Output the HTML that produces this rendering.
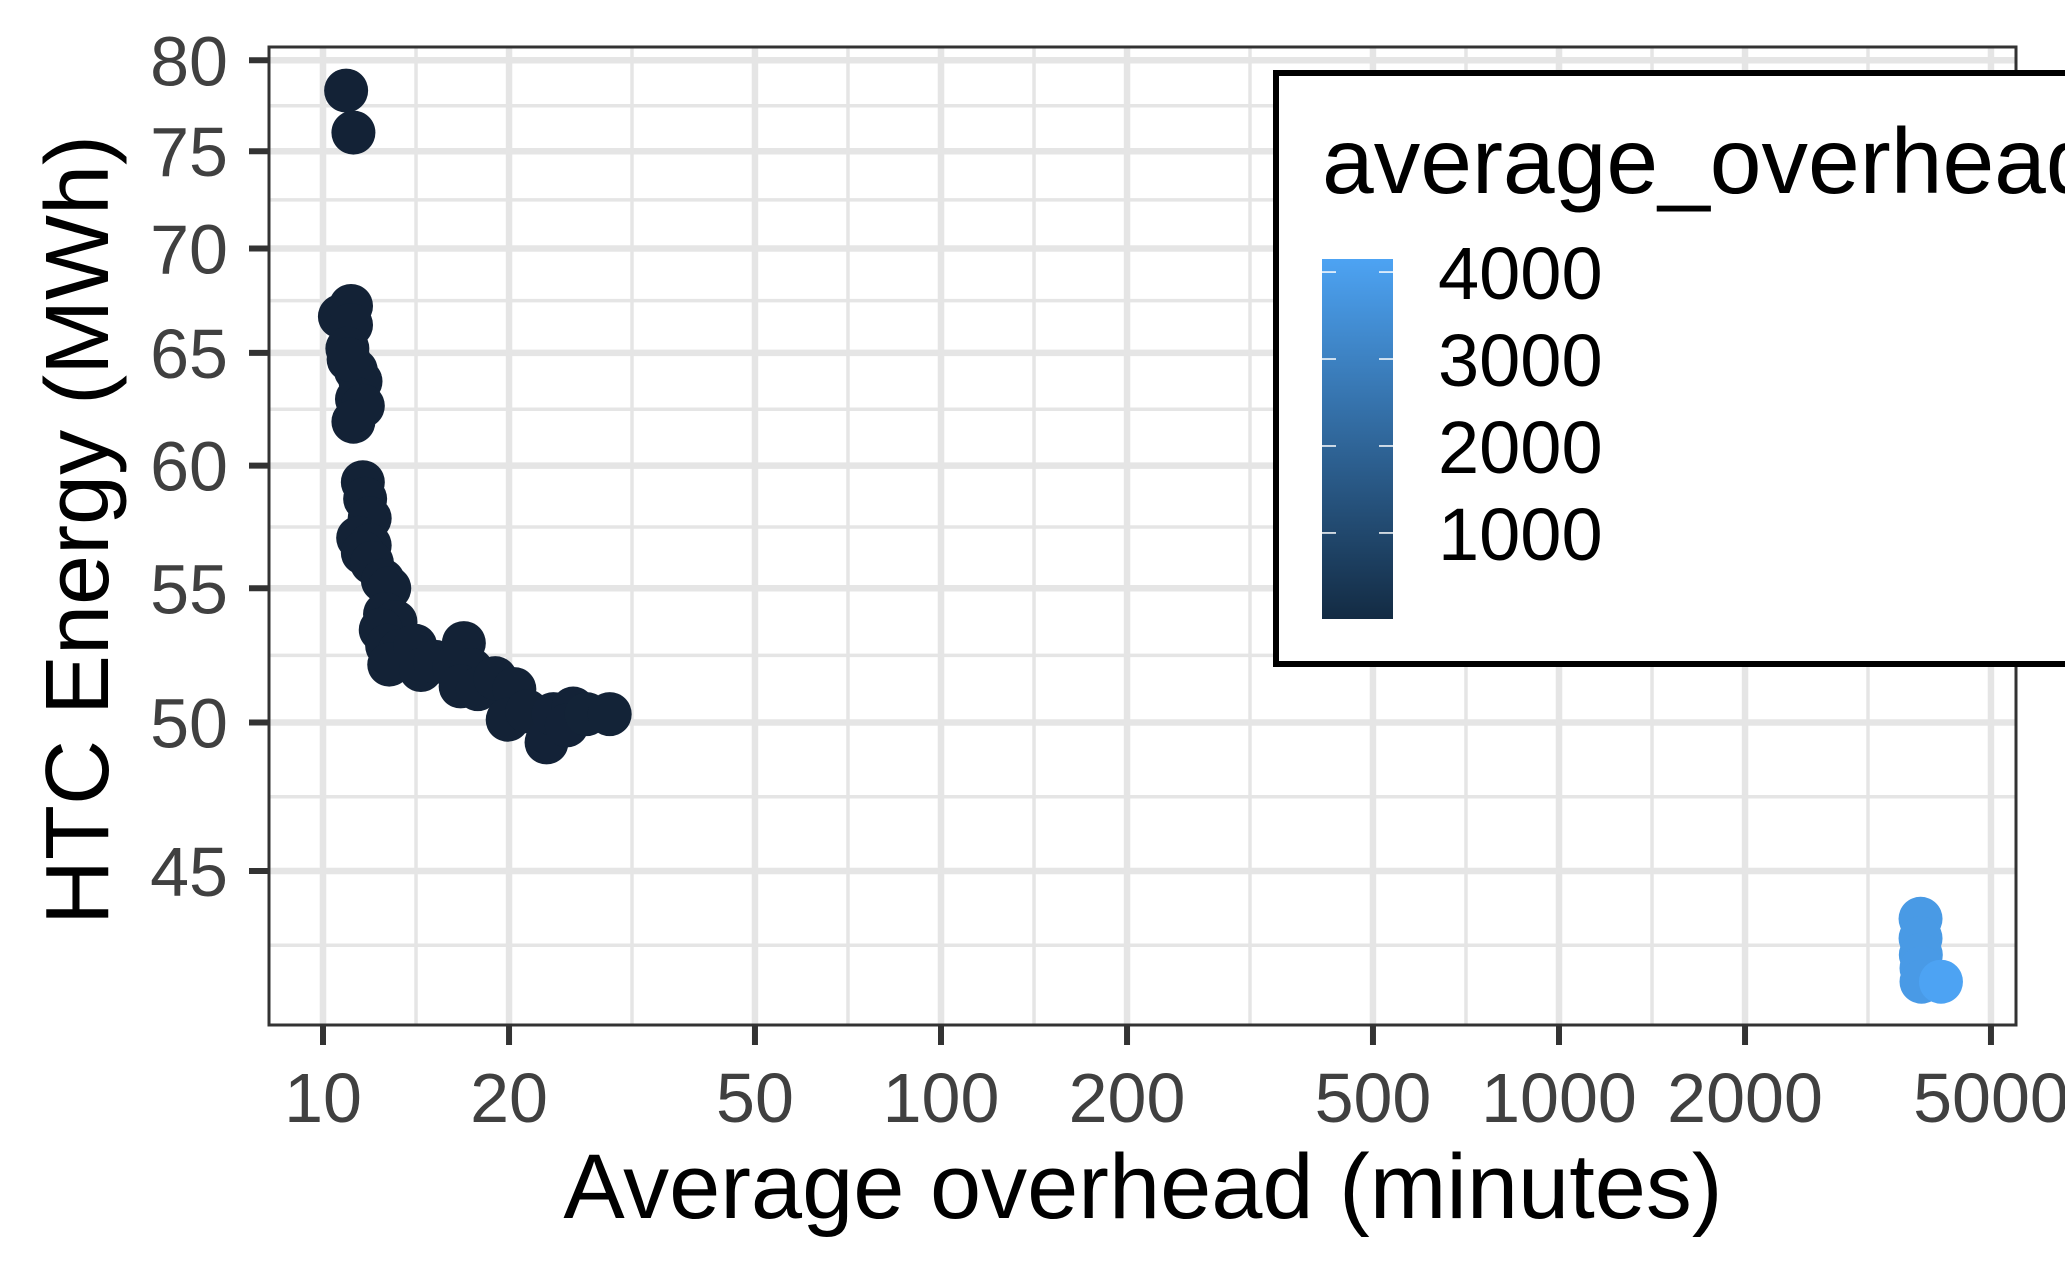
<!DOCTYPE html>
<html><head><meta charset="utf-8"><style>
html,body{margin:0;padding:0;background:#fff;overflow:hidden}
svg{display:block;font-family:"Liberation Sans",Arial,sans-serif}
</style></head><body>
<svg id="chart" width="2065" height="1276" viewBox="0 0 2065 1276" xmlns="http://www.w3.org/2000/svg">
<rect x="0" y="0" width="2065" height="1276" fill="#fff"/>
<g id="grid"></g>
<g id="points"></g>
<rect x="269" y="47" width="1747" height="978" fill="none" stroke="#333" stroke-width="3"/>
<g id="axes"></g>
<text x="1143" y="1218" font-size="92" text-anchor="middle" fill="#000">Average overhead (minutes)</text>
<text transform="translate(108,530) rotate(-90)" font-size="90" text-anchor="middle" fill="#000">HTC Energy (MWh)</text>
<g>
<rect x="1276" y="73" width="800" height="591" fill="#fff" stroke="#000" stroke-width="6"/>
<text x="1322" y="193" font-size="93" fill="#000">average_overhead</text>
<defs><linearGradient id="cg" x1="0" y1="1" x2="0" y2="0"><stop offset="0" stop-color="#132B43"/><stop offset="1" stop-color="#4DA3F3"/></linearGradient></defs>
<rect x="1322" y="259" width="71" height="360" fill="url(#cg)"/>
<g id="legend-ticks"></g>
</g>
</svg>
<script>
const xValues = [10.9,11.2,10.65,11.1,11.1,10.95,11.3,11.5,11.35,11.6,11.2,11.0,11.6,11.7,11.9,11.4,11.9,11.6,12.0,12.5,12.8,12.6,13.1,12.4,12.7,13.3,12.8,14.1,14.4,15.2,16.3,16.9,17.4,16.7,17.8,19.0,20.4,19.9,21.4,23.0,23.6,25.4,24.8,26.7,29.1,3846,3846,3850,3860,3860,4150];
const yValues = [78.3,76.0,66.7,67.2,66.3,65.2,64.2,63.7,62.9,62.6,61.9,64.7,59.3,58.6,57.8,57.0,56.7,56.4,56.0,55.3,55.0,54.0,53.7,53.4,52.8,52.6,52.1,52.8,51.9,52.2,52.0,52.9,51.9,51.3,51.2,51.6,51.2,50.1,50.4,49.3,50.3,50.5,49.9,50.3,50.3,43.5,42.9,42.4,42.0,41.6,41.6];
const xTicks = [10,20,50,100,200,500,1000,2000,5000];
const xTickLabels = ["10","20","50","100","200","500","1000","2000","5000"];
const yTicks = [45,50,55,60,65,70,75,80];
const yTickLabels = ["45","50","55","60","65","70","75","80"];
const legendTicks = [1000,2000,3000,4000];
const legendTickLabels = ["1000","2000","3000","4000"];

const NS="http://www.w3.org/2000/svg";
const PL=269,PR=2016,PT=47,PB=1025;
const xs=v=>323+(Math.log10(v)-1)*618;
const ys=v=>871-(Math.log(v)-Math.log(45))*1409;
const xMin=Math.min(...xValues), xMax=Math.max(...xValues);
const legY=v=>619-(v-xMin)/(xMax-xMin)*360;
function mk(tag,attrs,parent){const e=document.createElementNS(NS,tag);for(const k in attrs)e.setAttribute(k,attrs[k]);parent.appendChild(e);return e;}
function col(v){const t=(v-xMin)/(xMax-xMin);const a=[0x13,0x22,0x36],b=[0x4D,0xA3,0xF3];return `rgb(${a.map((c,i)=>Math.round(c+(b[i]-c)*t)).join(',')})`;}
const grid=document.getElementById('grid'),axes=document.getElementById('axes'),pts=document.getElementById('points'),lt=document.getElementById('legend-ticks');
mk('rect',{x:PL,y:PT,width:PR-PL,height:PB-PT,fill:'#fff'},grid);
function minors(ticks,f){const m=[];const p=ticks.map(f);for(let i=0;i<p.length-1;i++)m.push((p[i]+p[i+1])/2);m.unshift(p[0]-(p[1]-p[0])/2);m.push(p[p.length-1]+(p[p.length-1]-p[p.length-2])/2);return m;}
minors(xTicks,xs).forEach(x=>{if(x>PL&&x<PR){const l=mk('line',{x1:x,x2:x,y1:PT,y2:PB,stroke:'#e5e5e5','stroke-width':3.5},grid);

}});
minors(yTicks,ys).forEach(y=>{if(y>PT&&y<PB){const l=mk('line',{x1:PL,x2:PR,y1:y,y2:y,stroke:'#e5e5e5','stroke-width':3.5},grid);

}});
xTicks.forEach((v,i)=>{const x=xs(v);
const g=mk('line',{x1:x,x2:x,y1:PT,y2:PB,stroke:'#e5e5e5','stroke-width':6.5},grid);


const t=mk('line',{x1:x,x2:x,y1:PB,y2:PB+20,stroke:'#333','stroke-width':6},axes);


const l=mk('text',{x:x,y:1122,'font-size':70,'text-anchor':'middle',fill:'#404040'},axes);l.textContent=xTickLabels[i];

});
yTicks.forEach((v,i)=>{const y=ys(v);
const g=mk('line',{x1:PL,x2:PR,y1:y,y2:y,stroke:'#e5e5e5','stroke-width':6.5},grid);


const t=mk('line',{x1:PL-20,x2:PL,y1:y,y2:y,stroke:'#333','stroke-width':6},axes);


const l=mk('text',{x:228,y:y+25,'font-size':70,'text-anchor':'end',fill:'#404040'},axes);l.textContent=yTickLabels[i];

});
xValues.forEach((v,i)=>{const c=mk('circle',{cx:xs(v),cy:ys(yValues[i]),r:22,fill:col(v)},pts);

});
legendTicks.forEach((v,i)=>{const y=legY(v);
mk('line',{x1:1322,x2:1336,y1:y,y2:y,stroke:'#fff','stroke-width':1.5},lt);
mk('line',{x1:1379,x2:1393,y1:y,y2:y,stroke:'#fff','stroke-width':1.5},lt);
const l=mk('text',{x:1438,y:y+27,'font-size':74,fill:'#000'},lt);l.textContent=legendTickLabels[i];

});
</script>
</body></html>
